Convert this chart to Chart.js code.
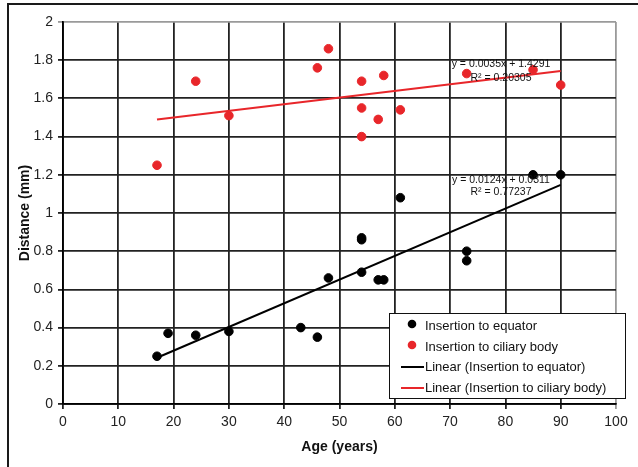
<!DOCTYPE html>
<html>
<head>
<meta charset="utf-8">
<script src="https://cdn.jsdelivr.net/npm/chart.js@4"></script>
<style>
  body { margin: 0; background: #fff; }
  #wrap { position: relative; width: 638px; height: 467px; overflow: hidden; }
  #frame { position: absolute; left: 7px; top: 3px; right: -10px; bottom: -10px;
           border-top: 2px solid #1a1a1a; border-left: 2px solid #1a1a1a; pointer-events: none; }
  canvas { position: absolute; left: 0; top: 0; }
</style>
</head>
<body>
<div id="wrap">
  <canvas id="chart" width="638" height="467"></canvas>
  <div id="frame"></div>
</div>
<script>
// data
var equatorAge  = [17, 19, 24, 30, 43, 46, 48, 54, 54, 54, 57, 58, 61, 73, 73, 85, 90];
var equatorDist = [0.25, 0.37, 0.36, 0.38, 0.40, 0.35, 0.66, 0.69, 0.86, 0.87, 0.65, 0.65, 1.08, 0.80, 0.75, 1.20, 1.20];

var ciliaryAge  = [17, 24, 30, 46, 48, 54, 54, 54, 57, 58, 61, 73, 85, 90];
var ciliaryDist = [1.25, 1.69, 1.51, 1.76, 1.86, 1.69, 1.55, 1.40, 1.49, 1.72, 1.54, 1.73, 1.75, 1.67];

// linear fits, end points at first and last age
var trendAge   = [17, 90];
var equatorFit = [0.242, 1.147];
var ciliaryFit = [1.489, 1.744];

var equatorEq = ['y = 0.0124x + 0.0311', 'R\u00b2 = 0.77237'];
var ciliaryEq = ['y = 0.0035x + 1.4291', 'R\u00b2 = 0.20305'];

var legendLabels = ['Insertion to equator', 'Insertion to ciliary body',
                    'Linear (Insertion to equator)', 'Linear (Insertion to ciliary body)'];

var RED = '#e8262a';
var FONT = '"Liberation Sans", Arial, sans-serif';

function pts(xs, ys) {
  return xs.map(function (x, i) { return { x: x, y: ys[i] }; });
}

// equation text next to the trend lines
var eqPlugin = {
  id: 'eqText',
  afterDatasetsDraw: function (chart) {
    var ctx = chart.ctx;
    ctx.save();
    ctx.fillStyle = '#111';
    ctx.font = '10.5px ' + FONT;
    ctx.textAlign = 'center';
    ctx.textBaseline = 'middle';
    ctx.fillText(ciliaryEq[0], 501, 64);
    ctx.fillText(ciliaryEq[1], 501, 78);
    ctx.fillText(equatorEq[0], 501, 180);
    ctx.fillText(equatorEq[1], 501, 192);
    ctx.restore();
  }
};

// legend box drawn inside the plot like the original
var legendPlugin = {
  id: 'boxLegend',
  afterDraw: function (chart) {
    var ctx = chart.ctx;
    var x0 = 389, y0 = 313, w = 236, h = 85;
    ctx.save();
    ctx.fillStyle = '#fff';
    ctx.fillRect(x0, y0, w, h);
    ctx.strokeStyle = '#111';
    ctx.lineWidth = 1;
    ctx.strokeRect(x0 + 0.5, y0 + 0.5, w, h);

    var rows = [326, 347, 367, 388];
    var colors = ['#000', RED, '#000', RED];
    ctx.font = '13px ' + FONT;
    ctx.textBaseline = 'middle';
    ctx.textAlign = 'left';
    rows.forEach(function (ry, i) {
      if (i < 2) {
        ctx.fillStyle = colors[i];
        ctx.beginPath();
        ctx.arc(412, ry - 2, 4.3, 0, Math.PI * 2);
        ctx.fill();
      } else {
        ctx.strokeStyle = colors[i];
        ctx.lineWidth = 2;
        ctx.beginPath();
        ctx.moveTo(401, ry);
        ctx.lineTo(424, ry);
        ctx.stroke();
      }
      ctx.fillStyle = '#111';
      ctx.fillText(legendLabels[i], 425, ry);
    });
    ctx.restore();
  }
};

new Chart(document.getElementById('chart'), {
  type: 'scatter',
  data: {
    datasets: [
      {
        label: legendLabels[0],
        data: pts(equatorAge, equatorDist),
        backgroundColor: '#000',
        borderColor: '#000',
        pointRadius: 4.3,
        order: 1
      },
      {
        label: legendLabels[1],
        data: pts(ciliaryAge, ciliaryDist),
        backgroundColor: RED,
        borderColor: RED,
        pointRadius: 4.3,
        order: 1
      },
      {
        label: legendLabels[2],
        data: pts(trendAge, equatorFit),
        showLine: true,
        borderColor: '#000',
        borderWidth: 2,
        pointRadius: 0,
        order: 2
      },
      {
        label: legendLabels[3],
        data: pts(trendAge, ciliaryFit),
        showLine: true,
        borderColor: RED,
        borderWidth: 2,
        pointRadius: 0,
        order: 2
      }
    ]
  },
  options: {
    responsive: false,
    animation: false,
    devicePixelRatio: 1,
    layout: { padding: { left: 0, right: 22, top: 22, bottom: 0 } },
    plugins: {
      legend: { display: false },
      tooltip: { enabled: false }
    },
    scales: {
      x: {
        type: 'linear',
        min: 0,
        max: 100,
        ticks: { stepSize: 10, color: '#222', padding: 5, font: { family: FONT, size: 14 } },
        grid: {
          color: function (c) { return c.tick && c.tick.value === 100 ? '#9a9a9a' : '#222'; },
          lineWidth: 1.8,
          tickLength: 5
        },
        border: { color: '#000', width: 1.8 },
        title: {
          display: true,
          text: 'Age (years)',
          color: '#111',
          font: { family: FONT, size: 14, weight: 'bold' },
          padding: { top: 0, bottom: 11 }
        },
        afterFit: function (s) { s.height = 63; }
      },
      y: {
        min: 0,
        max: 2,
        ticks: {
          stepSize: 0.2,
          color: '#222',
          padding: 5,
          font: { family: FONT, size: 14 },
          callback: function (v) { return String(Math.round(v * 10) / 10); }
        },
        grid: {
          color: function (c) { return c.tick && c.tick.value === 2 ? '#9a9a9a' : '#222'; },
          lineWidth: 1.8,
          tickLength: 5
        },
        border: { color: '#000', width: 1.8 },
        title: {
          display: true,
          text: 'Distance (mm)',
          color: '#111',
          font: { family: FONT, size: 14, weight: 'bold' },
          padding: { top: 17, bottom: 0 }
        },
        afterFit: function (s) { s.width = 63; }
      }
    }
  },
  plugins: [eqPlugin, legendPlugin]
});
</script>
</body>
</html>
